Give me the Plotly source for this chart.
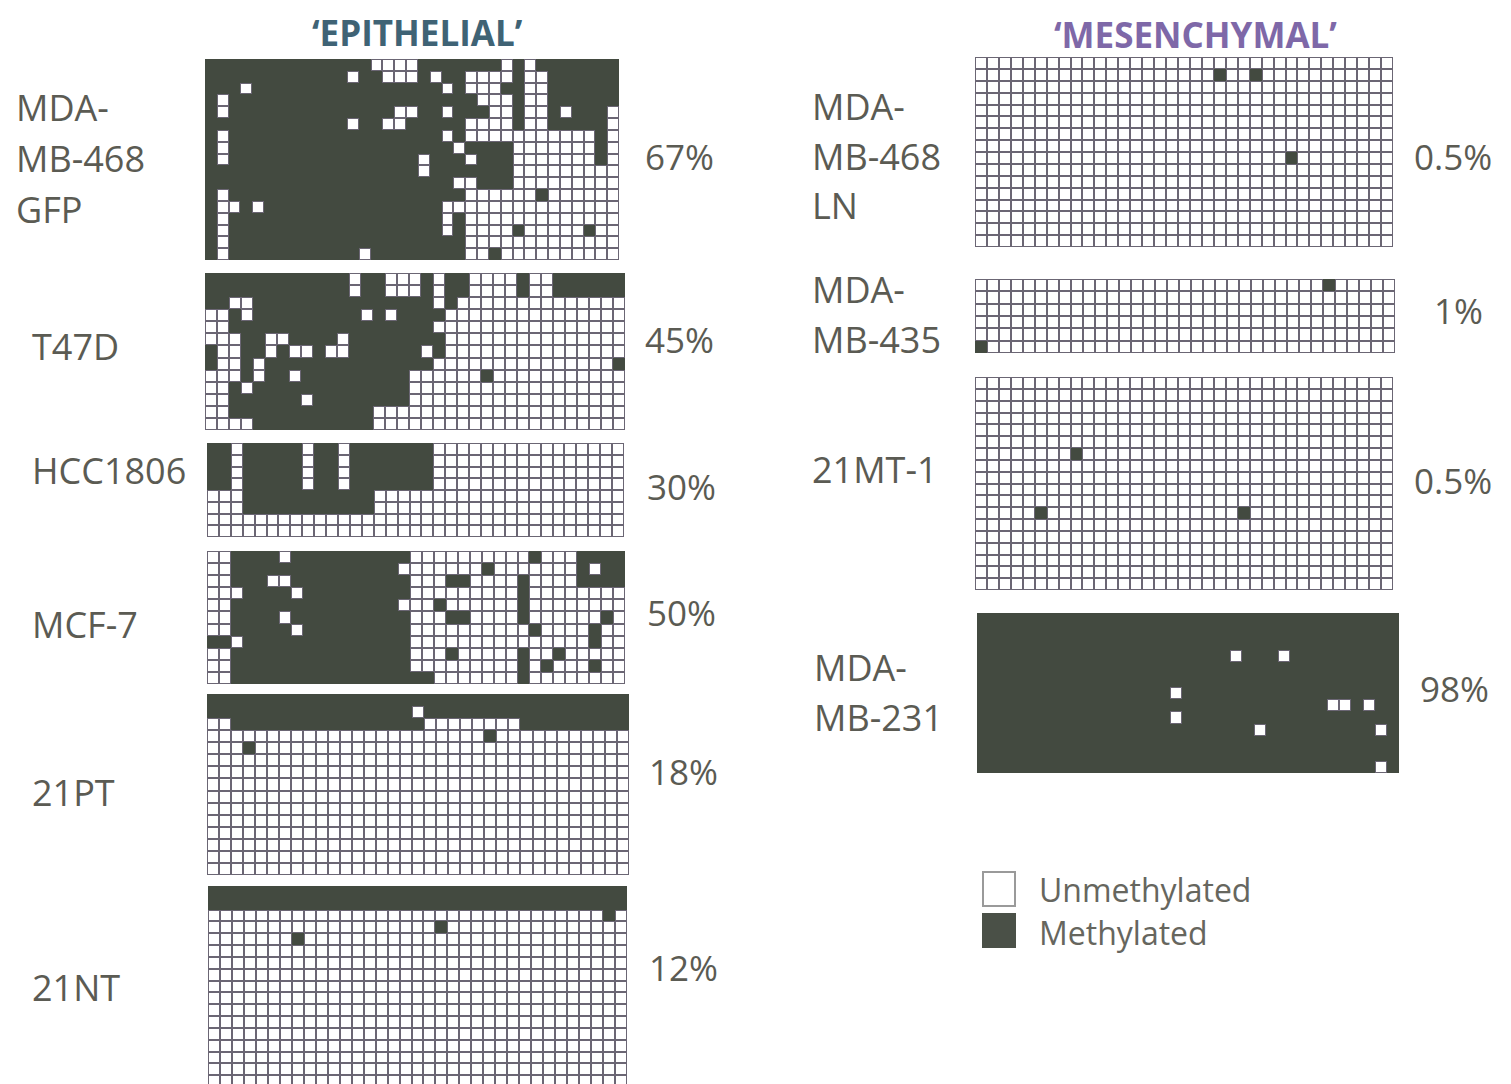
import plotly.graph_objects as go

W, H = 1511, 1084
DARK = "#434a40"      # methylated fill
LINE = "#6b6674"      # grid line colour
WHITE = "#ffffff"     # unmethylated fill
TEXT = "#5b5b53"
FONT = "Open Sans"

# ---------------- data ----------------
# '#' = methylated CpG, '.' = unmethylated; one string per clone, 35 CpG sites
gfp_468 = [
    "##### ##### ####. ...## ##### .#.## #####",
    "##### ##### ##.## ...#. ##... .#..# #####",
    "###.# ##### ##### ##### .#... ##..# #####",
    "#.### ##### ##### ##### ###.. .#..# #####",
    "#.### ##### ##### #..## .###. .#..# .###.",
    "##### ##### ##.## ..### ##... .#..# ####.",
    "#.### ##### ##### ##### .#... ..... ...#.",
    "#.### ##### ##### ##### #.### #.... ...#.",
    "#.### ##### ##### ###.# ##.## #.... ...#.",
    "##### ##### ##### ###.# ##### #.... .....",
    "##### ##### ##### ##### #..## #.... .....",
    "#.### ##### ##### ##### ##... ...#. .....",
    "#..#. ##### ##### ##### ..... ..... .....",
    "#.### ##### ##### ##### .#... ..... .....",
    "#.### ##### ##### ##### .#... .#... ..#..",
    "#.### ##### ##### ##### ##... ..... .....",
    "#.### ##### ###.# ##### ##..# ..... .....",
]
t47d = [
    "##### ##### ##.## ...#. ##... .#..# #####",
    "##### ##### ##.## ...#. ##... .#..# #####",
    "##..# ##### ##### ####. #.... ..... .....",
    "..#.# ##### ###.# .#### ..... ..... .....",
    "..### ##### ##### ####. ..... ..... .....",
    "...## ..### #.### ##### ..... ..... .....",
    "#..## .#..# ..### ###.# ..... ..... .....",
    "#..#. ##### ##### ####. ..... ..... ....#",
    "...#. ##.## ##### ##... ...#. ..... .....",
    "..#.# ##### ##### ##... ..... ..... .....",
    "..### ###.# ##### ##... ..... ..... .....",
    "..### ##### ####. ..... ..... ..... .....",
    "....# ##### ####. ..... ..... ..... .....",
]
hcc1806 = [
    "##.## ###.# #.### ####. ..... ..... .....",
    "##.## ###.# #.### ####. ..... ..... .....",
    "##.## ###.# #.### ####. ..... ..... .....",
    "##.## ###.# #.### ####. ..... ..... .....",
    "...## ##### ####. ..... ..... ..... .....",
    "...## ##### ####. ..... ..... ..... .....",
    "..... ..... ..... ..... ..... ..... .....",
    "..... ..... ..... ..... ..... ..... .....",
]
mcf7 = [
    "..### #.### ##### ##... ..... ..#.. .####",
    "..### ##### ##### #.... ...#. ..... .#.##",
    "..### ..### ##### ##... ##... .#... .####",
    "...## ##.## ##### ##... ..... .#... .....",
    "..### ##### ##### #...# ..... .#... .....",
    "..### #.### ##### ##... ##... .#... ...#.",
    "..### ##.## ##### ##... ..... ..#.. ..#..",
    "##.## ##### ##### ##... ..... ..... ..#..",
    "..### ##### ##### ##... #.... .#..# .....",
    "..### ##### ##### ##... ..... .#.#. ..#..",
    "..### ##### ##### ####. ..... .#... .....",
]
pt21 = [
    "##### ##### ##### ##### ##### ##### #####",
    "##### ##### ##### ##.## ##### ##### #####",
    "..### ##### ##### ###.. ..... .#### #####",
    "..... ..... ..... ..... ...#. ..... .....",
    "...#. ..... ..... ..... ..... ..... .....",
    "..... ..... ..... ..... ..... ..... .....",
    "..... ..... ..... ..... ..... ..... .....",
    "..... ..... ..... ..... ..... ..... .....",
    "..... ..... ..... ..... ..... ..... .....",
    "..... ..... ..... ..... ..... ..... .....",
    "..... ..... ..... ..... ..... ..... .....",
    "..... ..... ..... ..... ..... ..... .....",
    "..... ..... ..... ..... ..... ..... .....",
    "..... ..... ..... ..... ..... ..... .....",
    "..... ..... ..... ..... ..... ..... .....",
]
nt21 = [
    "##### ##### ##### ##### ##### ##### #####",
    "##### ##### ##### ##### ##### ##### #####",
    "..... ..... ..... ..... ..... ..... ...#.",
    "..... ..... ..... ....# ..... ..... .....",
    "..... ..#.. ..... ..... ..... ..... .....",
    "..... ..... ..... ..... ..... ..... .....",
    "..... ..... ..... ..... ..... ..... .....",
    "..... ..... ..... ..... ..... ..... .....",
    "..... ..... ..... ..... ..... ..... .....",
    "..... ..... ..... ..... ..... ..... .....",
    "..... ..... ..... ..... ..... ..... .....",
    "..... ..... ..... ..... ..... ..... .....",
    "..... ..... ..... ..... ..... ..... .....",
    "..... ..... ..... ..... ..... ..... .....",
    "..... ..... ..... ..... ..... ..... .....",
    "..... ..... ..... ..... ..... ..... .....",
    "..... ..... ..... ..... ..... ..... .....",
]
# sparse panels: number of clones and the exceptional cells (row, col)
ln_468_clones, ln_468_methylated = 16, [(1, 20), (1, 23), (8, 26)]
mb435_clones, mb435_methylated = 6, [(0, 29), (5, 0)]
mt1_21_clones, mt1_21_methylated = 18, [(6, 8), (11, 5), (11, 22)]
mb231_clones, mb231_unmethylated = 13, [(3, 21), (3, 25), (6, 16), (8, 16), (7, 29),
                                        (7, 30), (7, 32), (9, 23), (9, 33), (12, 33)]
N_SITES = 35

left_names = [["MDA-", "MB-468", "GFP"], ["T47D"], ["HCC1806"], ["MCF-7"], ["21PT"], ["21NT"]]
left_pct = ["67%", "45%", "30%", "50%", "18%", "12%"]
right_names = [["MDA-", "MB-468", "LN"], ["MDA-", "MB-435"], ["21MT-1"], ["MDA-", "MB-231"]]
right_pct = ["0.5%", "1%", "0.5%", "98%"]
group_titles = ["\u2018EPITHELIAL\u2019", "\u2018MESENCHYMAL\u2019"]
legend_labels = ["Unmethylated", "Methylated"]


def grid_from_strings(rows):
    return [[1 if ch == "#" else 0 for ch in r.replace(" ", "")] for r in rows]


def grid_from_sparse(n_rows, cells, base):
    g = [[base] * N_SITES for _ in range(n_rows)]
    for r, c in cells:
        g[r][c] = 1 - base
    return g


grids = [
    grid_from_strings(gfp_468), grid_from_strings(t47d), grid_from_strings(hcc1806),
    grid_from_strings(mcf7), grid_from_strings(pt21), grid_from_strings(nt21),
    grid_from_sparse(ln_468_clones, ln_468_methylated, 0),
    grid_from_sparse(mb435_clones, mb435_methylated, 0),
    grid_from_sparse(mt1_21_clones, mt1_21_methylated, 0),
    grid_from_sparse(mb231_clones, mb231_unmethylated, 1),
]

# ---------------- layout (pixel boxes of each panel) ----------------
boxes = [
    (205, 59, 619, 260), (205, 273, 625, 430), (207, 443, 624, 537),
    (207, 551, 625, 684), (207, 694, 629, 875), (208, 886, 627, 1087),
    (975, 57, 1393, 247), (975, 279, 1395, 353), (975, 377, 1393, 590),
    (977, 613, 1399, 773),
]
left_label_pos = [(14, [108, 158, 209]), (30, [346]), (30, [471]), (30, [624]), (30, [792]), (30, [987])]
left_pct_pos = [(643, 157), (643, 340), (645, 486), (645, 613), (647, 771), (647, 967)]
right_label_pos = [(810, [106, 156, 206]), (810, [289, 339]), (810, [469]), (812, [667, 717])]
right_pct_pos = [(1412, 157), (1432, 310), (1412, 481), (1418, 688)]
title_pos = [(418, 33, "#3f6375"), (1195, 35, "#7e68a8")]

fig = go.Figure()
layout_axes = {}
for k, (g, (x0, y0, x1, y1)) in enumerate(zip(grids, boxes)):
    idx = k + 1
    xa = "x" if idx == 1 else f"x{idx}"
    ya = "y" if idx == 1 else f"y{idx}"
    n_rows = len(g)
    whites = [[0 if v == 0 else None for v in row] for row in g]
    fig.add_trace(go.Heatmap(z=g, xaxis=xa, yaxis=ya, zmin=0, zmax=1,
                             colorscale=[[0, LINE], [1, DARK]], showscale=False,
                             hoverinfo="skip"))
    fig.add_trace(go.Heatmap(z=whites, xaxis=xa, yaxis=ya, zmin=0, zmax=1,
                             colorscale=[[0, WHITE], [1, WHITE]], showscale=False,
                             xgap=2, ygap=2, hoverinfo="skip"))
    y1c = min(y1, H)
    cell_h = (y1 - y0) / n_rows
    y_bottom = -0.5 + (y1c - y0) / cell_h
    sfx = "" if idx == 1 else str(idx)
    layout_axes[f"xaxis{sfx}"] = dict(domain=[x0 / W, x1 / W], range=[-0.5, N_SITES - 0.5],
                                      visible=False, anchor=ya, fixedrange=True)
    layout_axes[f"yaxis{sfx}"] = dict(domain=[1 - y1c / H, 1 - y0 / H], range=[y_bottom, -0.5],
                                      visible=False, anchor=xa, fixedrange=True)

annotations = []


def add_text(text, px, py, size, color=TEXT, xanchor="left"):
    annotations.append(dict(text=text, x=px / W, y=1 - py / H, xref="paper", yref="paper",
                            xanchor=xanchor, yanchor="middle", showarrow=False,
                            font=dict(family=FONT, size=size, color=color)))


for names, (lx, lys) in zip(left_names + right_names, left_label_pos + right_label_pos):
    for line, ly in zip(names, lys):
        add_text(line, lx, ly, 36)
for pct, (px, py) in zip(left_pct + right_pct, left_pct_pos + right_pct_pos):
    add_text(pct, px, py, 35)
for t, (tx, ty, col) in zip(group_titles, title_pos):
    add_text(f"<b>{t}</b>", tx, ty, 35, color=col, xanchor="center")

legend_boxes = [((983, 872, 1015, 906), WHITE, "#9a9a9a"), ((983, 914, 1015, 947), "#4a5047", "#4a5047")]
shapes = []
for lab, ((bx0, by0, bx1, by1), fill, edge), ly in zip(legend_labels, legend_boxes, [889, 932]):
    shapes.append(dict(type="rect", xref="paper", yref="paper", x0=bx0 / W, x1=bx1 / W,
                       y0=1 - by1 / H, y1=1 - by0 / H, fillcolor=fill,
                       line=dict(color=edge, width=2)))
    add_text(lab, 1037, ly, 32, color="#66665e")

fig.update_layout(width=W, height=H, margin=dict(l=0, r=0, t=0, b=0),
                  paper_bgcolor="white", plot_bgcolor="white", showlegend=False,
                  annotations=annotations, shapes=shapes, **layout_axes)
fig.write_html("out.html", config={"displayModeBar": False},
               post_script="document.body.style.margin='0px';")
